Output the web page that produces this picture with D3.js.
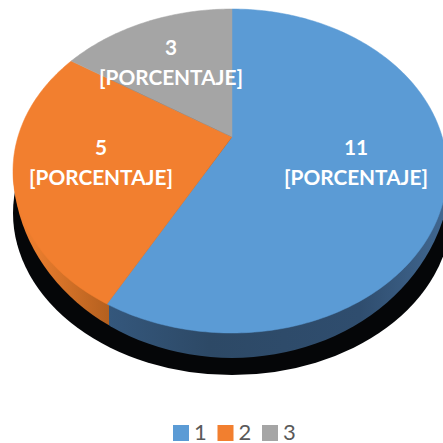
<!DOCTYPE html>
<html lang="es">

<head>
  <meta charset="UTF-8" />
  <title>Pie</title>
  <script src="https://d3js.org/d3.v7.min.js"></script>
  <style>
    body {
      margin: 0;
      padding: 0;
      background: #fff;
    }

    svg {
      display: block;
    }

    text {
      font-family: Lato, "Open Sans", sans-serif;
    }
  </style>
</head>

<body>
  <svg width="443" height="443"></svg>

  <script>
    const categories = ["1", "2", "3"];
    const values = [11, 5, 3];
    const labelText = "[PORCENTAJE]";
    const colors = ["#5b9bd5", "#f27f2f", "#a5a5a5"];

    const svg = d3.select("svg");
    const defs = svg.append("defs");

    // ellipse of the top face, k moves the pie centre up (perspective)
    const cx = 232, cy = 171, rx = 219, ry = 162, k = -0.21;

    // the right half of the top face is a bit narrower than the left
    const x = d3.scaleLinear().domain([-1, 0, 1]).range([cx - rx, cx, cx + 215]);
    const y = d3.scaleLinear().domain([-1, 1]).range([cy - ry, cy + ry]);

    function project(angle, r = 1) {
      const u = r * Math.sin(angle);
      const v = -r * Math.cos(angle);
      const w = 1 + k * v;
      return [x(u * Math.sqrt(1 - k * k) / w), y((v + k) / w)];
    }

    const slices = d3.pie().sort(null)(values);
    const line = d3.line();

    function slicePath(d) {
      const n = Math.ceil((d.endAngle - d.startAngle) * 60);
      const rim = d3.range(n + 1).map(i => project(d.startAngle + (d.endAngle - d.startAngle) * i / n));
      return line([project(0, 0), ...rim]) + "Z";
    }

    // black shadow band
    svg.append("ellipse")
      .attr("cx", cx).attr("cy", cy + 42)
      .attr("rx", rx).attr("ry", ry)
      .attr("fill", "#050608");

    // side of the pie, split where the blue slice ends
    const splitX = project(slices[0].endAngle)[0] + 2;

    const gradBlue = defs.append("linearGradient").attr("id", "sideBlue")
      .attr("gradientUnits", "userSpaceOnUse")
      .attr("x1", splitX).attr("x2", 443).attr("y1", 0).attr("y2", 0);
    gradBlue.append("stop").attr("offset", "0%").attr("stop-color", "#34577c");
    gradBlue.append("stop").attr("offset", "30%").attr("stop-color", "#2d4966");
    gradBlue.append("stop").attr("offset", "75%").attr("stop-color", "#2f4d6e");
    gradBlue.append("stop").attr("offset", "100%").attr("stop-color", "#40668f");

    const gradOrange = defs.append("linearGradient").attr("id", "sideOrange")
      .attr("gradientUnits", "userSpaceOnUse")
      .attr("x1", cx - rx).attr("x2", splitX).attr("y1", 0).attr("y2", 0);
    gradOrange.append("stop").attr("offset", "0%").attr("stop-color", "#f27f2f");
    gradOrange.append("stop").attr("offset", "25%").attr("stop-color", "#e87c2d");
    gradOrange.append("stop").attr("offset", "100%").attr("stop-color", "#b4601f");

    // only the lower half of the side shows
    defs.append("clipPath").attr("id", "clipLeft").append("rect")
      .attr("x", 0).attr("y", cy).attr("width", splitX).attr("height", 443 - cy);
    defs.append("clipPath").attr("id", "clipRight").append("rect")
      .attr("x", splitX).attr("y", cy).attr("width", 443 - splitX).attr("height", 443 - cy);

    svg.append("ellipse")
      .attr("cx", cx).attr("cy", 169).attr("rx", rx).attr("ry", 189)
      .attr("fill", "url(#sideOrange)")
      .attr("clip-path", "url(#clipLeft)");
    svg.append("ellipse")
      .attr("cx", cx).attr("cy", 169).attr("rx", rx).attr("ry", 189)
      .attr("fill", "url(#sideBlue)")
      .attr("clip-path", "url(#clipRight)");

    // top face
    svg.append("g").selectAll("path")
      .data(slices)
      .join("path")
      .attr("d", slicePath)
      .attr("fill", (d, i) => colors[i])
      .attr("stroke", (d, i) => colors[i])
      .attr("stroke-width", 0.5);

    // labels
    const labelPos = [[356, 148], [101, 148], [171, 48]];
    const labels = svg.append("g")
      .attr("fill", "#fff")
      .attr("font-size", 20.8)
      .attr("font-weight", 700)
      .attr("text-anchor", "middle");

    values.forEach((v, i) => {
      labels.append("text")
        .attr("x", labelPos[i][0]).attr("y", labelPos[i][1] + 7)
        .text(v);
      labels.append("text")
        .attr("x", labelPos[i][0]).attr("y", labelPos[i][1] + 37)
        .text(labelText);
    });

    // legend
    const legendX = d3.scalePoint().domain(categories).range([173, 262]);
    const legend = svg.append("g").selectAll("g")
      .data(categories)
      .join("g")
      .attr("transform", d => `translate(${legendX(d)},425)`);

    legend.append("rect")
      .attr("width", 16).attr("height", 16)
      .attr("fill", (d, i) => colors[i]);

    legend.append("text")
      .attr("x", 21).attr("y", 14.5)
      .attr("font-size", 22)
      .attr("fill", "#595959")
      .text(d => d);
  </script>
</body>

</html>
